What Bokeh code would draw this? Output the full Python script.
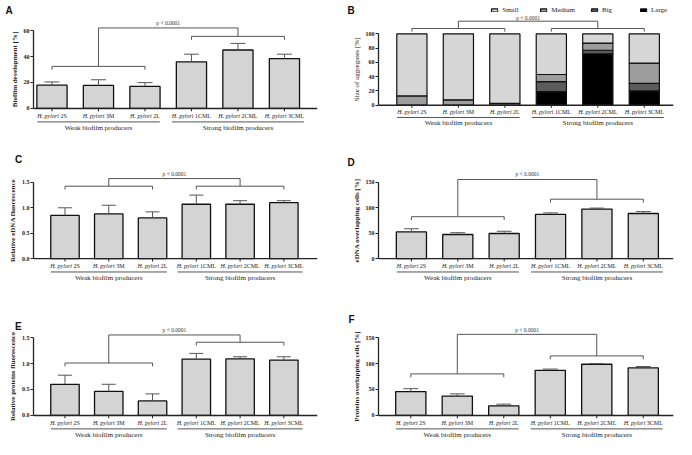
import numpy as np
from bokeh.plotting import figure
from bokeh.models import (Range1d, FixedTicker, Label, Legend, LegendItem,
                          ColumnDataSource, PrintfTickFormatter)
from bokeh.layouts import gridplot
from bokeh.embed import file_html
from bokeh.resources import INLINE
from bokeh.core.properties import value

# ---------------- data ----------------
strains = ["2S", "3M", "2L", "1CML", "2CML", "3CML"]
genus = "H. pylori"
group_names = ["Weak biofilm producers", "Strong biofilm producers"]
p_text = "p < 0.0001"

biofilm_mean = [17.9, 17.7, 17.0, 35.9, 45.0, 38.3]
biofilm_sd = [2.5, 4.4, 2.9, 5.9, 5.1, 3.5]

agg_classes = ["Small", "Medium", "Big", "Large"]
agg_small = [87, 92.5, 97.5, 57, 13, 41]
agg_medium = [13, 7.5, 2.5, 10, 10, 28.5]
agg_big = [0, 0, 0, 14, 5, 10.5]
agg_large = [0, 0, 0, 19, 72, 20]
agg_colors = {"Small": "#d6d6d6", "Medium": "#9d9d9d", "Big": "#5c5c5c", "Large": "#000000"}

edna_fl_mean = [0.85, 0.88, 0.80, 1.07, 1.07, 1.10]
edna_fl_sd = [0.15, 0.17, 0.12, 0.18, 0.07, 0.04]

edna_ov_mean = [52.5, 47.5, 49.4, 86.9, 97.5, 88.8]
edna_ov_sd = [6.3, 3.5, 4.4, 3.1, 1.9, 3.7]

prot_fl_mean = [0.60, 0.465, 0.28, 1.085, 1.09, 1.066]
prot_fl_sd = [0.175, 0.135, 0.135, 0.11, 0.04, 0.064]

prot_ov_mean = [45.9, 37.2, 18.6, 86.8, 98.6, 91.8]
prot_ov_sd = [5.6, 4.3, 3.1, 2.5, 1.2, 2.4]

# bracket levels: weak bracket, strong bracket, top line, p label
brackets_A = [32.4, 55.5, 62.0, 65.5]
brackets_B = [107.4, 107.4, 117.7, 121.8]
brackets_C = [1.425, 1.425, 1.575, 1.67]
brackets_D = [82.5, 116.9, 155.6, 165.6]
brackets_E = [1.01, 1.41, 1.55, 1.64]
brackets_F = [80.0, 114.7, 156.2, 165.0]

# ---------------- layout (reference px, per panel) ----------------
W = 338
REF_W = 346
ROW_REF = [150, 150, 155]
ROW_H = [145, 145, 149]

SERIF = "Liberation Serif"
SANS = "Liberation Sans"

IT_W = {'H': 0.722, '.': 0.25, ' ': 0.25, 'p': 0.5, 'y': 0.444, 'l': 0.278,
        'o': 0.5, 'r': 0.389, 'i': 0.278}
RG_W = {' ': 0.25, '0': 0.5, '1': 0.5, '2': 0.5, '3': 0.5, 'S': 0.556,
        'M': 0.889, 'L': 0.611, 'C': 0.667}
LAB_FS = 6.0
ABOVE_PANEL_H = 17.0   # height Bokeh gives a 10px Label placed in the "above" panel


def make_panel(letter, row_i, geo, ylabel, tick_step, top_val, fmt, brk,
               mean=None, sd=None, stacked=None, ylabel_bold=True, letter_side="left"):
    fl, fr, c0, c5, ft, fb, y0, yT, lx, ly = geo
    H = ROW_H[row_i]
    sx = W / REF_W
    sy = H / ROW_REF[row_i]
    s = (c5 - c0) / 5.0
    spx = s * sx
    k = top_val / (y0 - yT)          # data units per reference px

    xr = Range1d((fl - c0) / s, (fr - c0) / s)
    yr = Range1d(-(fb - y0) * k, (y0 - ft) * k)

    p = figure(width=W, height=H, output_backend="svg", toolbar_location=None,
               x_axis_location=None, title=None, x_range=xr, y_range=yr,
               min_border_left=int(round(fl * sx)),
               min_border_right=W - int(round(fr * sx)),
               min_border_top=int(round(ft * sy)),
               min_border_bottom=H - int(round(fb * sy)))
    p.outline_line_color = None
    p.grid.visible = False
    p.background_fill_color = "white"

    ax = p.yaxis[0]
    ax.bounds = (0, top_val)
    ax.ticker = FixedTicker(ticks=list(np.arange(0, top_val + tick_step / 2, tick_step)))
    if fmt:
        ax.formatter = PrintfTickFormatter(format=fmt)
    ax.axis_label = ylabel
    ax.axis_label_text_font = SERIF
    ax.axis_label_text_font_style = "bold" if ylabel_bold else "normal"
    ax.axis_label_text_font_size = "7px"
    ax.axis_label_text_color = "#222222"
    ax.axis_label_standoff = 2
    ax.major_label_text_font = SERIF
    ax.major_label_text_font_style = "bold"
    ax.major_label_text_font_size = "6px"
    ax.major_label_text_color = "#222222"
    ax.major_label_standoff = 1
    ax.major_tick_out = 3
    ax.major_tick_in = 0
    ax.minor_tick_out = 0
    ax.minor_tick_in = 0
    ax.axis_line_color = "#222222"
    ax.axis_line_width = 1.3
    ax.major_tick_line_color = "#222222"

    xs = np.arange(len(strains), dtype=float)

    legend_items = []
    if stacked is None:
        m = np.array(mean)
        top = m + np.array(sd)
        p.vbar(x=xs, top=m, width=0.65, fill_color="#d4d4d4",
               line_color="#111111", line_width=1.3)
        p.segment(x0=xs, y0=m, x1=xs, y1=top, line_color="#555555", line_width=1)
        p.segment(x0=xs - 0.16, y0=top, x1=xs + 0.16, y1=top,
                  line_color="#555555", line_width=1)
    else:
        src = ColumnDataSource(dict(x=xs, **{c: v for c, v in stacked.items()}))
        order = ["Large", "Big", "Medium", "Small"]
        rs = p.vbar_stack(order, x="x", width=0.65, source=src,
                          fill_color=[agg_colors[c] for c in order],
                          line_color="#111111", line_width=1.2)
        rmap = dict(zip(order, rs))
        legend_items = [LegendItem(label=c, renderers=[rmap[c]]) for c in agg_classes]

    # baseline and category ticks
    p.segment(x0=[xr.start], y0=[0], x1=[xr.end], y1=[0], line_color="#222222", line_width=1.4)
    p.segment(x0=xs, y0=0, x1=xs, y1=-3 * k, line_color="#222222", line_width=1)

    # brackets
    wy, sy_, ty, py = brk
    d = 3.5 * k
    bx0 = [0, 0, 2, 3, 3, 5, 1, 4, 1]
    by0 = [wy, wy, wy, sy_, sy_, sy_, wy, sy_, ty]
    bx1 = [2, 0, 2, 5, 3, 5, 1, 4, 4]
    by1 = [wy, wy - d, wy - d, sy_, sy_ - d, sy_ - d, ty, ty, ty]
    p.segment(x0=bx0, y0=by0, x1=bx1, y1=by1, line_color="#555555", line_width=1)
    p.text(x=[2.5], y=[py], text=[p_text], text_font=value(SERIF),
           text_font_size="5.5px", text_align="center", text_baseline="middle",
           text_color="#333333")

    # category labels (italic genus + regular strain code)
    w_it = sum(IT_W[c] for c in genus) * LAB_FS
    w_sfx = [sum(RG_W[c] for c in " " + st) * LAB_FS for st in strains]
    offs = [(w_it - ws) / 2 for ws in w_sfx]
    ly_lab = -7.5 * k
    lab_src = ColumnDataSource(dict(x=xs, y=[ly_lab] * 6, g=[genus] * 6, s=strains,
                                    o1=offs, o2=[o + 0.25 * LAB_FS for o in offs]))
    p.text(x="x", y="y", text="g", x_offset="o1", source=lab_src,
           text_font=value(SERIF), text_font_style="italic", text_font_size="6px",
           text_align="right", text_baseline="middle", text_color="#222222")
    p.text(x="x", y="y", text="s", x_offset="o2", source=lab_src,
           text_font=value(SERIF), text_font_size="6px",
           text_align="left", text_baseline="middle", text_color="#222222")

    # group underline + group names
    half = [(w_it + ws) / 2 / spx for ws in w_sfx]
    gl_y = -14 * k
    p.segment(x0=[0 - half[0], 3 - half[3]], y0=[gl_y, gl_y],
              x1=[2 + half[2], 5 + half[5]], y1=[gl_y, gl_y],
              line_color="#555555", line_width=1)
    p.text(x=[1, 4], y=[-20 * k, -20 * k], text=group_names, text_font=value(SERIF),
           text_font_size="7px", text_align="center", text_baseline="middle",
           text_color="#222222")

    # panel letter, in a side panel
    lkw = dict(text=letter, text_font=SANS, text_font_style="bold",
               text_font_size="10px", text_baseline="top", text_align="left",
               text_color="#111111", x_units="screen", y_units="screen")
    fh = (fb - ft) * sy
    if letter_side == "left":
        p.add_layout(Label(x=(lx + 2) * sx, y=fh - (ly - ft) * sy, **lkw), "left")
    else:
        p.add_layout(Label(x=(lx - fl) * sx, y=ABOVE_PANEL_H - (ly - 1) * sy, **lkw), "above")

    if legend_items:
        leg = Legend(items=legend_items, orientation="horizontal", location="top_right",
                     label_text_font=SERIF, label_text_font_size="7px",
                     label_text_color="#222222",
                     glyph_width=8, glyph_height=4, label_width=22, label_height=8,
                     spacing=15, label_standoff=4, padding=0, margin=0,
                     background_fill_alpha=0, border_line_color=None)
        p.add_layout(leg)
    return p


geo_A = (33, 325, 52, 291, 6, 137, 112, 31, 3, 5)
geo_B = (40, 343, 74.3, 313, 0, 143, 112, 31, 3, 11)
geo_C = (21, 325, 54.7, 289, 14, 142, 118, 38, 2, 13)
geo_D = (40, 343, 73.8, 312, 13, 141, 117, 37, 3, 12)
geo_E = (21, 325, 54.7, 289, 25, 154, 130, 49, 2, 25)
geo_F = (40.7, 343, 73.8, 312, 25, 154, 130, 49, 3, 25)

pA = make_panel("A", 0, geo_A, "Biofilm development [%]", 20, 60, None, brackets_A,
                mean=biofilm_mean, sd=biofilm_sd)
pB = make_panel("B", 0, geo_B, "Size of aggregates [%]", 20, 100, None, brackets_B,
                stacked={"Small": agg_small, "Medium": agg_medium,
                         "Big": agg_big, "Large": agg_large}, ylabel_bold=False)
pC = make_panel("C", 1, geo_C, "Relative eDNA fluorescence", 0.5, 1.5, "%.1f", brackets_C,
                mean=edna_fl_mean, sd=edna_fl_sd, letter_side="above")
pD = make_panel("D", 1, geo_D, "eDNA overlapping cells [%]", 50, 150, None, brackets_D,
                mean=edna_ov_mean, sd=edna_ov_sd)
pE = make_panel("E", 2, geo_E, "Relative proteins fluorescence", 0.5, 1.5, "%.1f", brackets_E,
                mean=prot_fl_mean, sd=prot_fl_sd, letter_side="above")
pF = make_panel("F", 2, geo_F, "Proteins overlapping cells [%]", 50, 150, None, brackets_F,
                mean=prot_ov_mean, sd=prot_ov_sd)

grid = gridplot([[pA, pB], [pC, pD], [pE, pF]], toolbar_location=None)

open("out.html", "w").write(file_html(grid, INLINE))
